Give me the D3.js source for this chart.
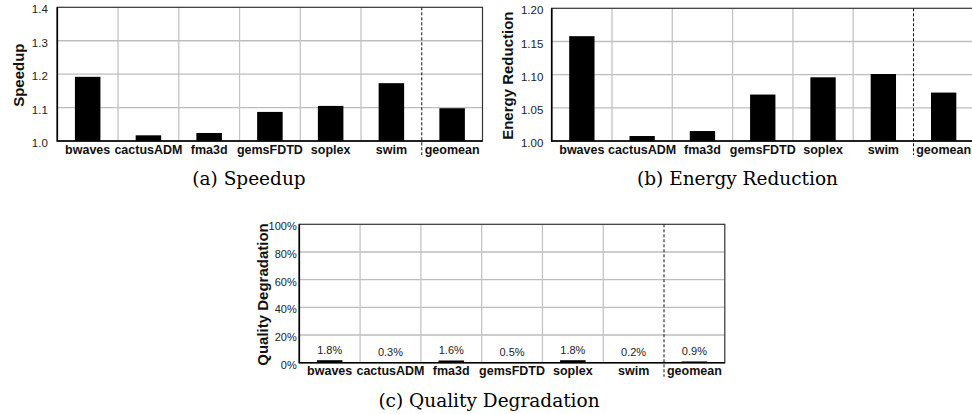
<!DOCTYPE html>
<html>
<head>
<meta charset="utf-8">
<script src="https://cdn.jsdelivr.net/npm/d3@7"></script>
<style>
  body { margin: 0; background: #fff; }
  svg { display: block; }
</style>
</head>
<body>
<svg id="fig" width="972" height="414"></svg>
<script>
// categories and values
var categories = ["bwaves", "cactusADM", "fma3d", "gemsFDTD", "soplex", "swim", "geomean"];
var speedup = [1.192, 1.017, 1.024, 1.087, 1.105, 1.173, 1.098];
var energy = [1.158, 1.0075, 1.015, 1.070, 1.096, 1.101, 1.073];
var quality = [1.8, 0.3, 1.6, 0.5, 1.8, 0.2, 0.9];

var speedupTicks = [1.0, 1.1, 1.2, 1.3, 1.4];
var energyTicks = [1.00, 1.05, 1.10, 1.15, 1.20];
var qualityTicks = [0, 20, 40, 60, 80, 100];

var sans = "Arial, Helvetica, sans-serif";
var serif = "'DejaVu Serif', serif";

var svg = d3.select("#fig");

function panel(opt) {
  var g = svg.append("g");

  var x = d3.scaleBand()
      .domain(categories)
      .range([opt.left, opt.right]);
  var y = d3.scaleLinear()
      .domain(opt.domain)
      .range([opt.bottom, opt.top]);

  // horizontal grid
  g.selectAll(".hgrid")
      .data(opt.ticks.slice(1, -1))
    .enter().append("line")
      .attr("x1", opt.left).attr("x2", opt.right)
      .attr("y1", function(d) { return y(d); })
      .attr("y2", function(d) { return y(d); })
      .attr("stroke", "#bdbdbd")
      .attr("stroke-width", 1.3);

  // vertical grid at band edges (last one is dashed)
  var edges = categories.slice(1).map(function(c) { return x(c); });
  g.selectAll(".vgrid")
      .data(edges.slice(0, -1))
    .enter().append("line")
      .attr("x1", function(d) { return d; })
      .attr("x2", function(d) { return d; })
      .attr("y1", opt.top).attr("y2", opt.bottom)
      .attr("stroke", "#c4c4c4")
      .attr("stroke-width", 1.3);

  g.append("line")
      .attr("x1", edges[edges.length - 1]).attr("x2", edges[edges.length - 1])
      .attr("y1", opt.top).attr("y2", opt.bottom + 14)
      .attr("stroke", "#111")
      .attr("stroke-width", 1)
      .attr("stroke-dasharray", "3,2");

  // bars
  var bw = x.bandwidth() * 0.42;
  g.selectAll(".bar")
      .data(opt.values)
    .enter().append("rect")
      .attr("x", function(d, i) { return x(categories[i]) + (x.bandwidth() - bw) / 2; })
      .attr("y", function(d) { return y(d); })
      .attr("width", bw)
      .attr("height", function(d) { return opt.bottom - y(d); })
      .attr("fill", "#000");

  // frame
  g.append("rect")
      .attr("x", opt.left).attr("y", opt.top)
      .attr("width", opt.right - opt.left)
      .attr("height", opt.bottom - opt.top)
      .attr("fill", "none")
      .attr("stroke", "#333")
      .attr("stroke-width", 1.2);
  g.append("path")
      .attr("d", "M" + opt.left + "," + opt.top + "V" + opt.bottom + "H" + opt.right)
      .attr("fill", "none")
      .attr("stroke", "#000")
      .attr("stroke-width", 1.6);

  // y tick labels
  g.selectAll(".ytick")
      .data(opt.ticks)
    .enter().append("text")
      .attr("x", opt.left - opt.tickGap)
      .attr("y", function(d) { return y(d) + 2; })
      .attr("dy", "0.35em")
      .attr("text-anchor", "end")
      .style("font-family", sans)
      .style("font-size", opt.tickSize + "px")
      .attr("fill", "#222")
      .text(opt.tickFormat);

  // category labels
  g.selectAll(".xlab")
      .data(categories)
    .enter().append("text")
      .attr("x", function(d) { return x(d) + x.bandwidth() / 2; })
      .attr("y", opt.bottom + 12.5)
      .attr("text-anchor", "middle")
      .style("font-family", sans)
      .style("font-weight", "bold")
      .style("font-size", "12.5px")
      .attr("fill", "#111")
      .text(function(d) { return d; });

  // y axis title
  g.append("text")
      .attr("transform", "translate(" + opt.titleX + "," + ((opt.top + opt.bottom) / 2 + 1) + ") rotate(-90)")
      .attr("text-anchor", "middle")
      .attr("dy", "0.35em")
      .style("font-family", sans)
      .style("font-weight", "bold")
      .style("font-size", "15px")
      .attr("fill", "#111")
      .text(opt.title);

  // value labels
  if (opt.valueLabels) {
    g.selectAll(".vlab")
        .data(opt.values)
      .enter().append("text")
        .attr("x", function(d, i) { return x(categories[i]) + x.bandwidth() / 2; })
        .attr("y", function(d) { return y(d) - 6; })
        .attr("text-anchor", "middle")
        .style("font-family", sans)
        .style("font-size", "11px")
        .attr("fill", "#222")
        .text(function(d) { return d.toFixed(1) + "%"; });
  }

  // caption
  g.append("text")
      .attr("x", opt.capX)
      .attr("y", opt.bottom + 44)
      .attr("text-anchor", "middle")
      .style("font-family", serif)
      .style("font-size", "18.5px")
      .attr("fill", "#000")
      .text(opt.caption);
}

panel({
  left: 57.3, right: 482.5, top: 7.3, bottom: 141,
  domain: [1.0, 1.4], ticks: speedupTicks,
  tickFormat: d3.format(".1f"), tickSize: 11.5, tickGap: 9.5,
  values: speedup, title: "Speedup", titleX: 18.3,
  caption: "(a) Speedup", capX: 249
});

panel({
  left: 551.7, right: 973.8, top: 8.3, bottom: 141,
  domain: [1.0, 1.2], ticks: energyTicks,
  tickFormat: d3.format(".2f"), tickSize: 11.5, tickGap: 8.4,
  values: energy, title: "Energy Reduction", titleX: 507.5,
  caption: "(b) Energy Reduction", capX: 737.5
});

panel({
  left: 299.3, right: 724.8, top: 224.3, bottom: 362.7,
  domain: [0, 100], ticks: qualityTicks,
  tickFormat: function(d) { return d + "%"; }, tickSize: 11, tickGap: 2.6,
  values: quality, valueLabels: true, title: "Quality Degradation", titleX: 262.5,
  caption: "(c) Quality Degradation", capX: 489
});
</script>
</body>
</html>
